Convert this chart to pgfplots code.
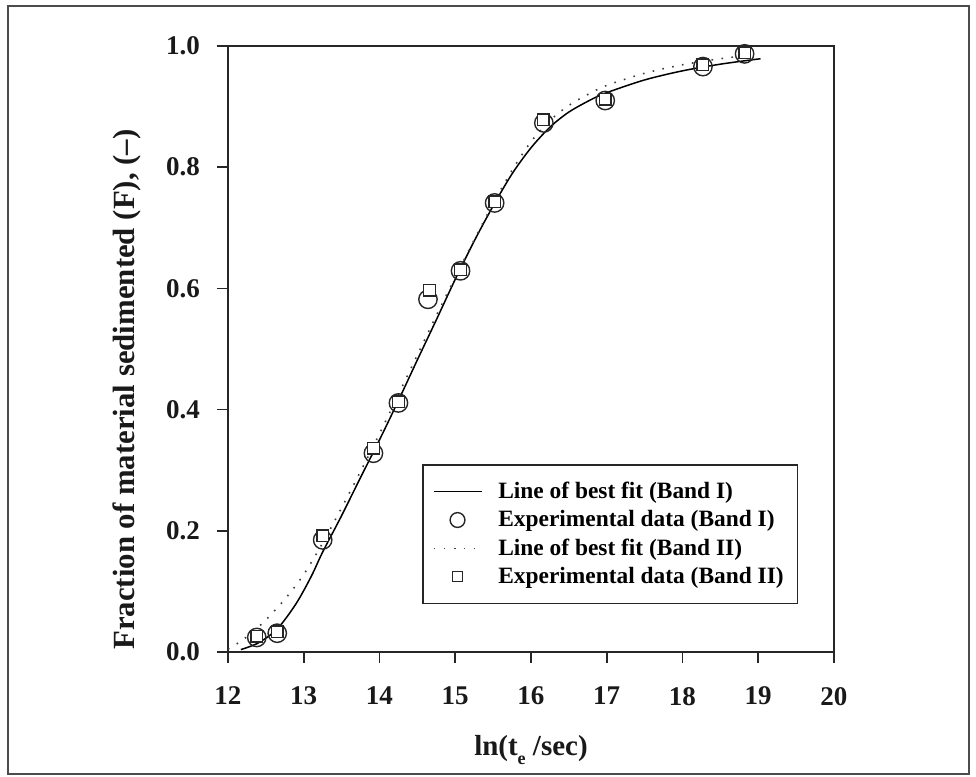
\documentclass[border=0pt]{standalone}
\usepackage{fontspec}
\setmainfont{Liberation Serif}
\usepackage{pgfplots}
\pgfplotsset{compat=1.18}

\begin{document}
\begin{tikzpicture}
\useasboundingbox (0,0) rectangle (488pt,388.5pt);
% outer frame
\draw[line width=0.7pt, black!70] (4pt,1.5pt) rectangle (484.5pt,385.5pt);
\begin{axis}[
  at={(114pt,62.5pt)}, anchor=south west,
  scale only axis, width=303pt, height=303pt,
  xmin=12, xmax=20, ymin=0, ymax=1,
  xtick={12,13,14,15,16,17,18,19,20},
  ytick={0,0.2,0.4,0.6,0.8,1.0},
  yticklabel style={/pgf/number format/fixed, /pgf/number format/fixed zerofill,
    /pgf/number format/precision=1, xshift=-5pt},
  tick align=outside, tick pos=left, major tick length=5.5pt,
  axis line style={line width=1pt, black!85},
  every tick/.style={line width=0.8pt, black!85},
  tick label style={font=\fontsize{13.5}{16}\selectfont\bfseries, text=black!90},
  /pgf/number format/assume math mode=true,
  xticklabel style={yshift=-8.5pt},
  xlabel={ln(t\raisebox{-4.5pt}{\fontsize{9}{9}\selectfont e} /sec)},
  ylabel={Fraction of material sedimented (F), (--)},
  every axis x label/.style={at={(axis description cs:0.5,-0.162)}, anchor=center,
    font=\fontsize{14.5}{17}\selectfont\bfseries, text=black!90},
  every axis y label/.style={at={(axis description cs:-0.167,0.433)}, anchor=center, rotate=90,
    font=\fontsize{15.4}{18}\selectfont\bfseries, text=black!90},
  legend style={at={(axis description cs:0.320,0.310)}, anchor=north west,
    draw=black!85, line width=0.8pt, inner xsep=5pt, inner ysep=6.5pt,
    font=\fontsize{11.7}{13}\selectfont\bfseries, row sep=0.5pt,
    /tikz/every odd column/.append style={column sep=6pt}},
  legend cell align=left,
  legend image code/.code={\draw[mark repeat=2, mark phase=2, #1]
    plot coordinates {(0pt,0pt) (12pt,0pt) (24pt,0pt)};},
]
% Band I: line of best fit
\addplot[black, line width=0.75pt, smooth, tension=0.5] coordinates {
  (12.17,0.004) (12.40,0.015) (12.65,0.038) (12.90,0.080) (13.10,0.125)
  (13.25,0.165) (13.50,0.225) (13.75,0.288) (14.00,0.350) (14.25,0.415)
  (14.50,0.482) (14.75,0.548) (15.00,0.615) (15.25,0.678) (15.50,0.736)
  (15.75,0.789) (16.00,0.832) (16.25,0.866) (16.50,0.891) (16.80,0.912)
  (17.00,0.923) (17.50,0.944) (18.00,0.959) (18.50,0.970) (19.03,0.979)
};
\addlegendentry{Line of best fit (Band I)}
% Band I: experimental data
\addplot[only marks, mark=o, mark size=4.6pt, black!85, line width=0.7pt,
  legend image post style={mark size=3.7pt}] coordinates {
  (12.38,0.024) (12.65,0.031) (13.25,0.185) (13.92,0.328) (14.25,0.411)
  (14.64,0.582) (15.07,0.629) (15.52,0.741) (16.17,0.873) (16.98,0.910)
  (18.27,0.966) (18.82,0.987)
};
\addlegendentry{Experimental data (Band I)}
% Band II: line of best fit
\addplot[black!75, line width=0.8pt, dash pattern=on 0.8pt off 4.2pt, smooth, tension=0.5] coordinates {
  (12.00,0.005) (12.10,0.012) (12.30,0.030) (12.50,0.053) (12.75,0.087)
  (13.00,0.128) (13.25,0.180) (13.50,0.238) (13.75,0.298) (14.00,0.360)
  (14.25,0.425) (14.50,0.490) (14.75,0.555) (15.00,0.618) (15.25,0.680)
  (15.50,0.740) (15.75,0.795) (16.00,0.842) (16.25,0.877) (16.50,0.902)
  (16.75,0.920) (17.00,0.935) (17.50,0.955) (18.00,0.969) (18.50,0.979)
  (18.90,0.985)
};
\addlegendentry{Line of best fit (Band II)}
% Band II: experimental data
\addplot[only marks, mark=square*, mark size=2.9pt, draw=black!85, fill=white, line width=0.7pt,
  legend image post style={mark size=2.5pt}] coordinates {
  (12.38,0.026) (12.65,0.033) (13.25,0.192) (13.92,0.336) (14.25,0.413)
  (14.66,0.597) (15.07,0.631) (15.52,0.743) (16.16,0.878) (16.98,0.912)
  (18.27,0.969) (18.82,0.989)
};
\addlegendentry{Experimental data (Band II)}
\end{axis}
\end{tikzpicture}
\end{document}
